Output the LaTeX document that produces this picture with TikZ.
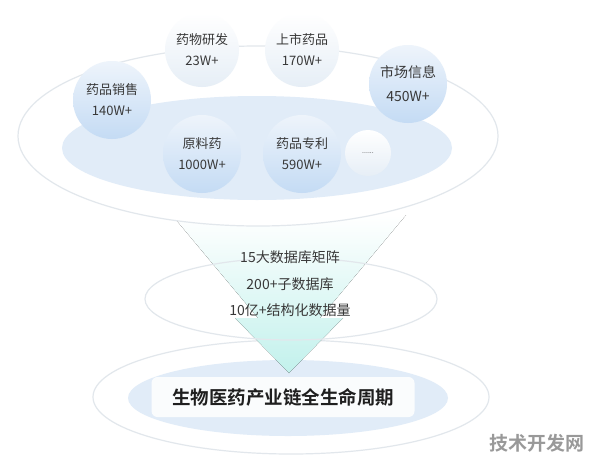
\documentclass[tikz,border=0pt]{standalone}
\usepackage{fontspec}
\setmainfont{Noto Sans CJK SC}[BoldFont={* Bold}]

\definecolor{ringgray}{HTML}{E2E7EC}
\definecolor{discblue}{HTML}{E1ECF8}
\definecolor{bubbletop}{HTML}{EEF4FB}
\definecolor{bubblebot}{HTML}{C4DBF4}
\definecolor{faintblue}{HTML}{E6EEF6}
\definecolor{funnelcyan}{HTML}{C2F1EC}
\definecolor{textgray}{HTML}{383838}

\begin{document}
\begin{tikzpicture}[
x=1pt,y=-1pt,
bubble/.style={
circle,
minimum size=78pt,
align=center,
text=textgray,
font=\fontsize{13}{21}\selectfont,
top color=bubbletop,
bottom color=bubblebot
},
faintbubble/.style={
bubble,
minimum size=74pt,
top color=white,
bottom color=faintblue
},
ring/.style={
draw=ringgray,
line width=1.2pt
}
]

\fill[white] (0,0) rectangle (596,458);

% bottom level
\draw[ring, fill=white] (291,397) ellipse [x radius=198, y radius=57];
\fill[discblue] (288,398) ellipse [x radius=160, y radius=38];

% funnel arrow
\fill[top color=white, bottom color=funnelcyan]
(172,215) -- (406,215) -- (320,318) -- (343,318)
-- (289,373) -- (235,318) -- (258,318) -- cycle;

% top level
\draw[ring, fill=white] (258,136) ellipse [x radius=240, y radius=90];

\fill[discblue] (257,148) ellipse [x radius=195, y radius=52];

\node[bubble] (sales) at (112,100)
{药品销售\\140W+};

\node[faintbubble] (rnd) at (202,50)
{药物研发\\23W+};

\node[faintbubble] (listed) at (302,50)
{上市药品\\170W+};

\node[bubble, font=\fontsize{14}{24}\selectfont] (market) at (408,84)
{市场信息\\450W+};

\node[bubble] (api) at (202,154)
{原料药\\1000W+};

\node[bubble] (patent) at (302,154)
{药品专利\\590W+};

\node[faintbubble, minimum size=46pt, font=\fontsize{7}{7}\selectfont] (more) at (368,153)
{......};

% middle level
\draw[ring] (291,299) ellipse [x radius=146, y radius=41];

\node[align=center, text=textgray, font=\fontsize{14}{26.5}\selectfont] (stats) at (290,284)
{15大数据库矩阵\\200+子数据库\\10亿+结构化数据量};

\node[fill=white, fill opacity=0.85, text opacity=1, rounded corners=6pt,
minimum width=263pt, minimum height=40pt, text=black!88,
font=\fontsize{18.5}{20}\selectfont\bfseries] (lifecycle) at (283,397)
{生物医药产业链全生命周期};

\node[text=black!40, font=\fontsize{19}{20}\selectfont\bfseries] (mark) at (537,443)
{技术开发网};

\end{tikzpicture}
\end{document}
